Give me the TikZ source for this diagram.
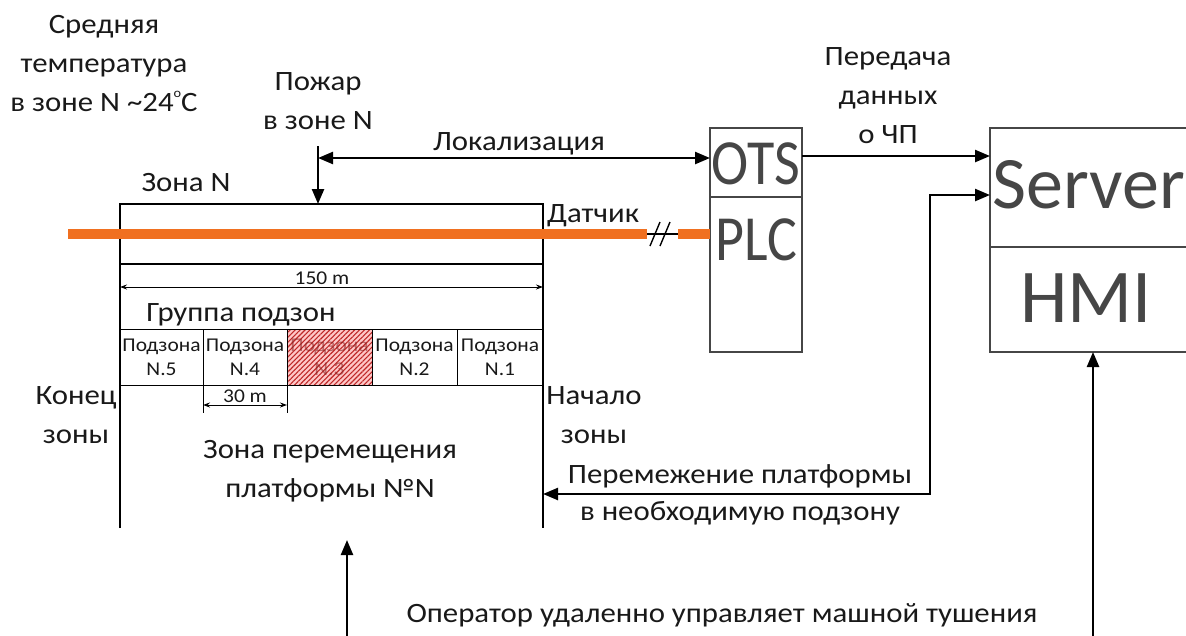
\documentclass[tikz,border=0pt]{standalone}
\usepackage{fontspec}
\setmainfont{Carlito}
\newfontfamily\txtfont{Carlito}[FakeStretch=1.1]
\usetikzlibrary{arrows.meta,patterns.meta}
\definecolor{orng}{RGB}{240,112,32}
\definecolor{boxgray}{RGB}{70,70,70}
\definecolor{txt}{RGB}{25,25,25}
\definecolor{hatch}{RGB}{190,40,40}
\newcommand\degsign{\raisebox{1.05ex}{\fontsize{13}{13}\selectfont o}}

\begin{document}
\begin{tikzpicture}[x=1pt,y=-1pt,
  lbl/.style={font=\txtfont\fontsize{28}{39}\selectfont, text=txt, align=center, inner sep=0pt},
  small/.style={font=\txtfont\fontsize{19.5}{24}\selectfont, text=txt, align=center, inner sep=0pt},
  dim/.style={font=\txtfont\fontsize{19.5}{22}\selectfont, text=txt, inner sep=0pt},
  big/.style={font=\fontsize{#1}{#1}\selectfont, text=boxgray, inner sep=0pt},
  arr/.style={line width=2.4pt, -{Triangle[length=15pt,width=12pt]}},
  darr/.style={line width=2.4pt, {Triangle[length=15pt,width=12pt]}-{Triangle[length=15pt,width=12pt]}},
  dimarr/.style={line width=1pt, {Stealth[length=7pt,width=5pt]}-{Stealth[length=7pt,width=5pt]}},
  frame/.style={draw=boxgray, line width=1.6pt, inner sep=0pt, outer sep=0pt},
  zl/.style={line width=1.8pt},
  cell/.style={line width=1pt},
]
\clip (0,0) rectangle (1186,635);

% ---- zone outline ----
\coordinate (ztl) at (120,204);
\coordinate (ztr) at (543,204);
\coordinate (zbl) at (120,528);
\coordinate (zbr) at (543,528);
\draw[zl] (zbl) -- (ztl) -- (ztr) -- (zbr);
\draw[zl] (120,264) -- (543,264);

% ---- sensor cable ----
\coordinate (cabA) at (68,234);
\coordinate (cabB) at (647,234);
\coordinate (cabC) at (678,234);
\draw[orng, line width=10pt] (cabA) -- (cabB);
\draw[line width=1.4pt] (cabB) -- (cabC);
\draw[line width=1.4pt] (650,246) -- (660,222);
\draw[line width=1.4pt] (660,246) -- (670,222);
\node[lbl, anchor=base west] (sensor) at (547,222) {Датчик};

% ---- zone length ----
\coordinate (l150) at (120,287);
\coordinate (r150) at (543,287);
\draw[dimarr] (l150) -- (r150);
\node[dim, anchor=base] (len150) at (322,284) {150 m};
\node[lbl, anchor=base] (group) at (241,321) {Группа подзон};

% ---- subzones ----
\fill[red!22] (287,329) rectangle (372,385);
\fill[pattern={Lines[angle=45,distance=3.5pt,line width=1.1pt]}, pattern color=hatch] (287,329) rectangle (372,385);
\draw[cell] (120,329) -- (543,329);
\draw[cell] (120,385) -- (543,385);
\foreach \x in {203,287,372,457} \draw[cell] (\x,329) -- (\x,385);
\node[small] (sz5) at (161.5,357) {Подзона\\N.5};
\node[small] (sz4) at (245,357) {Подзона\\N.4};
\node[small, text=hatch!70!black, opacity=0.55] (sz3) at (329.5,357) {Подзона\\N.3};
\node[small] (sz2) at (414.5,357) {Подзона\\N.2};
\node[small] (sz1) at (500,357) {Подзона\\N.1};

% ---- subzone length ----
\draw[cell] (203,385) -- (203,413);
\draw[cell] (287,385) -- (287,413);
\coordinate (l30) at (203,405);
\coordinate (r30) at (287,405);
\draw[dimarr] (l30) -- (r30);
\node[dim, anchor=base] (len30) at (245,402) {30 m};

% ---- zone labels ----
\node[lbl] (zoneN) at (186,183) {Зона N};
\node[lbl] (zend) at (76,415) {Конец\\зоны};
\node[lbl] (zstart) at (594,415) {Начало\\зоны};
\node[lbl] (platform) at (330,471) {Зона перемещения\\платформы №N};
\node[lbl] (temp) at (104,64) {Средняя\\температура\\в зоне N \char`~24\degsign C};
\node[lbl] (fire) at (318,101) {Пожар\\в зоне N};

% ---- OTS / PLC ----
\node[frame, minimum width=92pt, minimum height=69pt] (ots) at (756,162.5) {};
\node[frame, minimum width=92pt, minimum height=155pt] (plc) at (756,274.5) {};
\node[big=56, yscale=1.15] (otst) at (756,164) {OTS};
\node[big=56, yscale=1.15] (plct) at (756,240) {PLC};
\draw[orng, line width=10pt] (cabC) -- (plc.west |- cabC);

% ---- Server / HMI ----
\node[frame, minimum width=220pt, minimum height=119pt, anchor=north west] (server) at (990,128) {};
\node[frame, minimum width=220pt, minimum height=105pt, anchor=north west] (hmi) at (990,247) {};
\node[big=74, anchor=west] (servert) at (992,185) {Server};
\node[big=76] (hmit) at (1086,298) {HMI};

% ---- localisation ----
\coordinate (fireTop) at (318,146);
\coordinate (locL) at (318,158);
\draw[arr] (fireTop) -- (fireTop |- ztl);
\draw[darr] (locL) -- (locL -| ots.west);
\node[lbl, anchor=base] (loc) at (519,150) {Локализация};

% ---- data transfer ----
\coordinate (dtx) at (802,156);
\draw[arr] (dtx) -- (dtx -| server.west);
\node[lbl] (data) at (888,96) {Передача\\данных\\о ЧП};

% ---- platform move ----
\coordinate (pm) at (543,494);
\coordinate (sv) at (990,195);
\draw[darr] (pm) -- (930,494) -- (930,195) -- (sv);
\node[lbl] (move1) at (740,476) {Перемежение платформы};
\node[lbl] (move2) at (740,513) {в необходимую подзону};

% ---- operator control ----
\coordinate (opA) at (347,540);
\coordinate (opB) at (1093,352);
\draw[darr] (opA) -- (347,660) -- (1093,660) -- (opB);
\node[lbl] (op) at (722,615) {Оператор удаленно управляет машной тушения};
\end{tikzpicture}
\end{document}
